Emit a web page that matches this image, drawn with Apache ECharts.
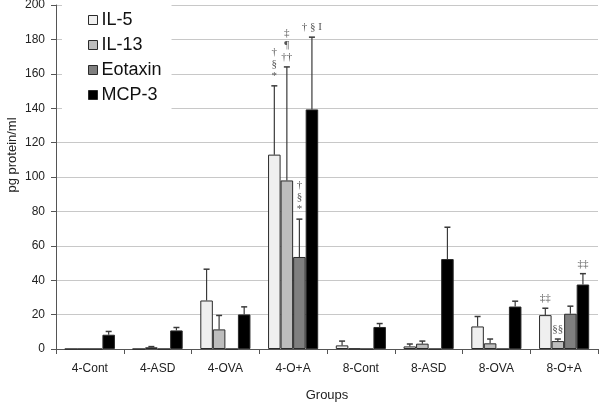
<!DOCTYPE html>
<html><head><meta charset="utf-8">
<script src="https://cdn.jsdelivr.net/npm/echarts@6/dist/echarts.min.js"></script>
<style>html,body{margin:0;padding:0;background:#fff}#c{width:600px;height:402px}</style>
</head><body><div id="c"></div>
<script>
const categories = ['4-Cont','4-ASD','4-OVA','4-O+A','8-Cont','8-ASD','8-OVA','8-O+A'];
const seriesNames = ['IL-5','IL-13','Eotaxin','MCP-3'];
const il5 = [0, 0, 28.2, 113, 2.1, 1.5, 13.1, 19.7];
const il5Err = [0, 0, 18.2, 40, 2.5, 1.4, 5.8, 4.0];
const il13 = [0, 1.0, 11.4, 98, 0.2, 3.1, 3.3, 4.6];
const il13Err = [0, 0.4, 8.1, 66, 0, 1.5, 2.5, 1.2];
const eotaxin = [0, 0, 0, 53.5, 0, 0, 0, 20.5];
const eotaxinErr = [0, 0, 0, 22, 0, 0, 0, 4.4];
const mcp3 = [8.3, 10.8, 20.1, 139.3, 12.8, 52.3, 24.7, 37.5];
const mcp3Err = [1.9, 1.7, 4.4, 42, 2, 18.5, 3.1, 6.3];
const il5Notes = ['', '', '', '†\n§\n*', '', '', '', '‡‡'];
const il13Notes = ['', '', '', '‡\n¶\n††', '', '', '', '§§'];
const eotaxinNotes = ['', '', '', '†\n§\n*', '', '', '', ''];
const mcp3Notes = ['', '', '', '† § I', '', '', '', '‡‡'];
const yTicks = [0, 20, 40, 60, 80, 100, 120, 140, 160, 180, 200];

const values = [il5, il13, eotaxin, mcp3];
const errs = [il5Err, il13Err, eotaxinErr, mcp3Err];
const notes = [il5Notes, il13Notes, eotaxinNotes, mcp3Notes];
const colors = ['#efefef', '#bdbdbd', '#7f7f7f', '#000000'];
const catGap = 0.26;

const barSeries = values.map((v, i) => ({
  name: seriesNames[i], type: 'bar', data: v,
  barCategoryGap: (catGap * 100) + '%', barGap: '0%',
  itemStyle: { color: colors[i], borderColor: '#2a2a2a', borderWidth: 1 },
  z: 2
}));

const errSeries = values.map((v, i) => ({
  type: 'custom', name: seriesNames[i] + ' err',
  data: v.map((val, k) => [k, val, val + errs[i][k], errs[i][k]]),
  z: 3, silent: true,
  renderItem: function (params, api) {
    const k = api.value(0);
    const val = api.value(1), top = api.value(2), e = api.value(3);
    const note = notes[i][k];
    const band = api.size([1, 0])[0];
    const groupW = band * (1 - catGap);
    const bw = groupW / 4;
    const c0 = api.coord([k, val]);
    const x = c0[0] - groupW / 2 + bw * (i + 0.5);
    const y0 = c0[1];
    const y1 = api.coord([k, top])[1];
    const children = [];
    if (e > 0) {
      children.push({ type: 'line', shape: { x1: x, y1: y0, x2: x, y2: y1 }, style: { stroke: '#3a3a3a', lineWidth: 1.2 } });
      children.push({ type: 'line', shape: { x1: x - 3, y1: y1, x2: x + 3, y2: y1 }, style: { stroke: '#3a3a3a', lineWidth: 1.5 } });
    }
    if (note) {
      children.push({ type: 'text', x: x, y: y1 - 4, style: {
        text: note, fill: '#555', font: '11px "Liberation Serif", "DejaVu Serif", serif',
        align: 'center', verticalAlign: 'bottom', lineHeight: 12 } });
    }
    return { type: 'group', children: children };
  }
}));

const chart = echarts.init(document.getElementById('c'));
chart.setOption({
  animation: false,
  backgroundColor: '#fff',
  grid: { left: 56, right: 2, top: 5, bottom: 53, containLabel: false, outerBoundsMode: 'none' },
  legend: {
    data: seriesNames, orient: 'vertical', left: 62, top: 0,
    backgroundColor: '#fff', padding: [11, 10, 6, 26],
    itemWidth: 9, itemHeight: 9, itemGap: 7, icon: 'rect',
    textStyle: { fontFamily: 'Liberation Sans, Arial, sans-serif', fontSize: 18, color: '#111', padding: [0, 0, 0, -1] },
    itemStyle: { borderColor: '#2a2a2a', borderWidth: 1 }
  },
  xAxis: {
    type: 'category', data: categories,
    name: 'Groups', nameLocation: 'middle', nameGap: 40,
    nameTextStyle: { fontFamily: 'Liberation Sans, Arial, sans-serif', fontSize: 13, color: '#222' },
    axisLine: { lineStyle: { color: '#555', width: 1 } },
    axisTick: { show: true, length: 5, lineStyle: { color: '#555' } },
    axisLabel: { fontFamily: 'Liberation Sans, Arial, sans-serif', fontSize: 12, color: '#222', margin: 14 }
  },
  yAxis: {
    type: 'value', min: yTicks[0], max: yTicks[yTicks.length - 1], interval: 20,
    axisLine: { show: true, lineStyle: { color: '#555', width: 1 } },
    axisTick: { show: true, length: 5, inside: false, lineStyle: { color: '#555' } },
    axisLabel: { fontFamily: 'Liberation Sans, Arial, sans-serif', fontSize: 12, color: '#222', margin: 11 },
    splitLine: { lineStyle: { color: '#c8c8c8', width: 1 } }
  },
  graphic: [{
    type: 'text', x: 12, y: 155, rotation: Math.PI / 2,
    style: { text: 'pg protein/ml', font: '13px "Liberation Sans", Arial, sans-serif', fill: '#222', align: 'center', verticalAlign: 'middle' }
  }],
  series: barSeries.concat(errSeries)
});
</script></body></html>
